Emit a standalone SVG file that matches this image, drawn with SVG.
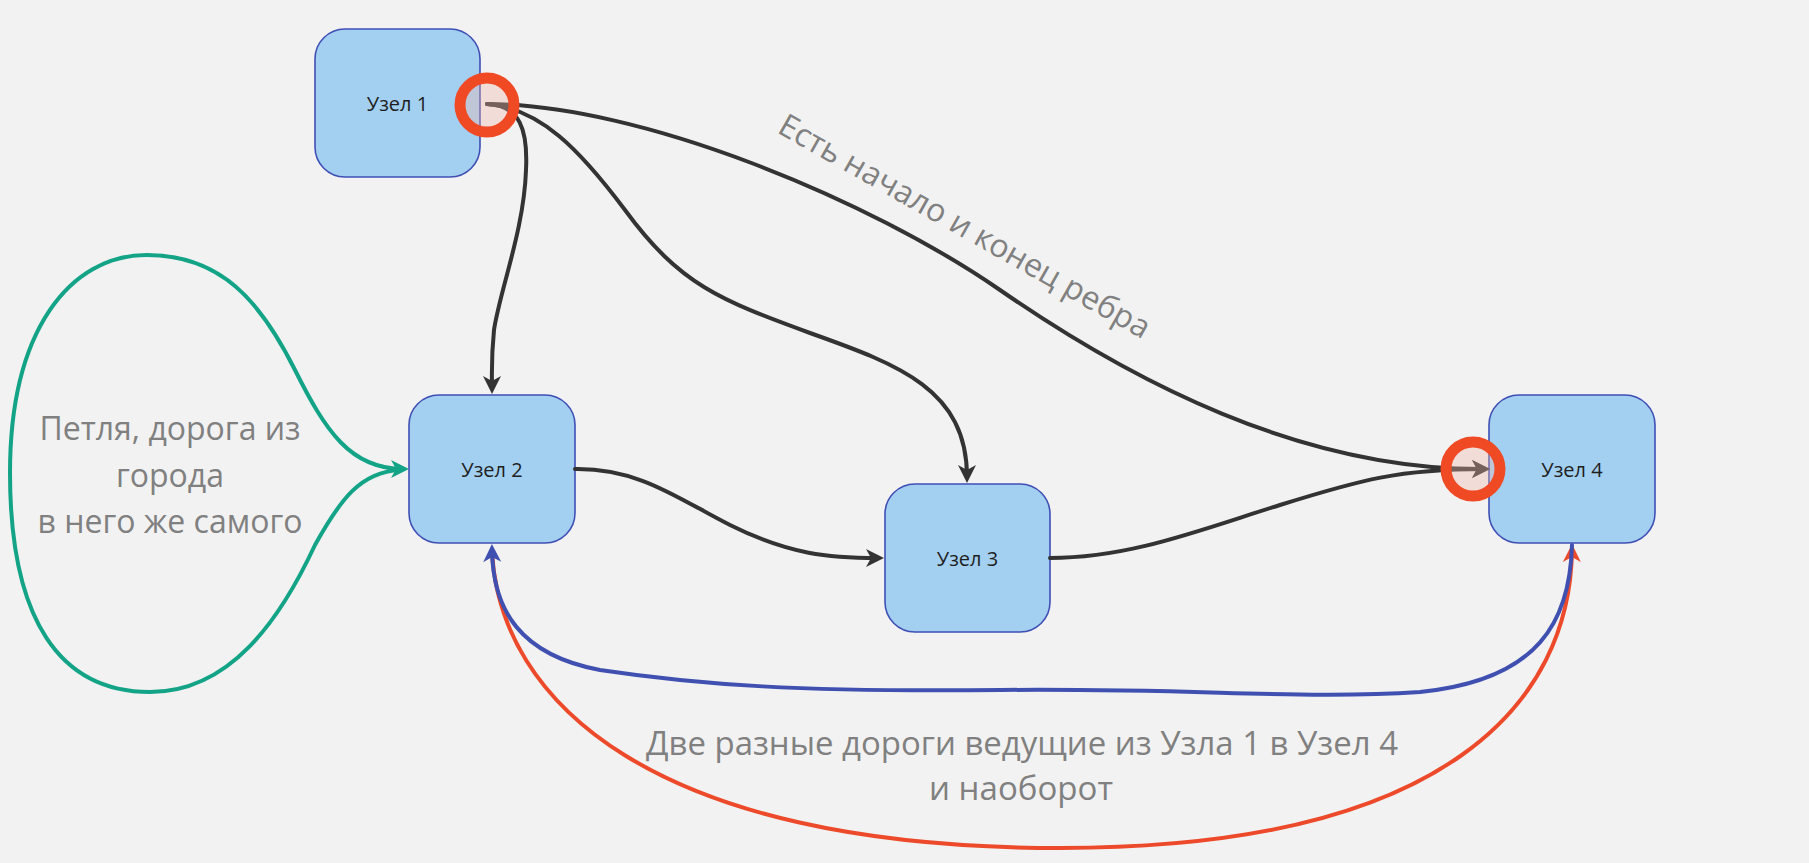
<svg xmlns="http://www.w3.org/2000/svg" width="1809" height="863" viewBox="0 0 1809 863">
<defs>
<style>
.node rect{fill:#a3d0f0;stroke:#3f4fb5;stroke-width:1.6}
.node text{font-family:"Open Sans","Noto Sans",sans-serif;font-size:20px;fill:#1e1e1e;text-anchor:middle}
.lbl{font-family:"Open Sans","Noto Sans",sans-serif;font-size:32px;fill:#808080;text-anchor:middle}
.e{fill:none;stroke-width:4;stroke-linecap:round}
.dark{stroke:#333333}
.teal{stroke:#13a386}
.blue{stroke:#4050b0}
.red{stroke:#ec4a2a}
.ring{fill:#f0b4aa;fill-opacity:0.35;stroke:#f04a25;stroke-width:11}
</style>
<marker id="aDark" markerUnits="userSpaceOnUse" markerWidth="26" markerHeight="26" viewBox="-13 -13 26 26" refX="0" refY="0" orient="auto"><path d="M6,0 L-12,-9 L-7,0 L-12,9 Z" fill="#333333"/></marker>
<marker id="aTeal" markerUnits="userSpaceOnUse" markerWidth="26" markerHeight="26" viewBox="-13 -13 26 26" refX="0" refY="0" orient="auto"><path d="M6,0 L-12,-9 L-7,0 L-12,9 Z" fill="#13a386"/></marker>
<marker id="aBlue" markerUnits="userSpaceOnUse" markerWidth="26" markerHeight="26" viewBox="-13 -13 26 26" refX="0" refY="0" orient="auto"><path d="M6,0 L-12,-9 L-7,0 L-12,9 Z" fill="#4050b0"/></marker>
<marker id="aRed" markerUnits="userSpaceOnUse" markerWidth="26" markerHeight="26" viewBox="-13 -13 26 26" refX="0" refY="0" orient="auto"><path d="M6,0 L-12,-9 L-7,0 L-12,9 Z" fill="#ec4a2a"/></marker>
</defs>
<rect x="0" y="0" width="1809" height="863" fill="#f2f2f2"/>

<g id="node1" class="node"><rect x="315" y="29" width="165" height="148" rx="30"/><text x="397.5" y="111">Узел 1</text></g>
<g id="node2" class="node"><rect x="409" y="395" width="166" height="148" rx="30"/><text x="492" y="477">Узел 2</text></g>
<g id="node3" class="node"><rect x="885" y="484" width="165" height="148" rx="30"/><text x="967.5" y="566">Узел 3</text></g>
<g id="node4" class="node"><rect x="1489" y="395" width="166" height="148" rx="30"/><text x="1572" y="477">Узел 4</text></g>

<g id="connectors">
<path class="e dark" d="M487,104 C520,105 528,130 526,170 C524,230 500,290 494,330 C491,360 492,375 492,388" marker-end="url(#aDark)"/>
<path class="e dark" d="M487,104 C540,108 580,150 625,210 C680,285 720,300 810,333 C900,365 967,390 967,477" marker-end="url(#aDark)"/>
<path class="e dark" d="M487,104 C640,104 870,200 1000,290 C1130,380 1300,470 1484,469" marker-end="url(#aDark)"/>
<path class="e dark" d="M575,469 C640,468 680,500 730,525 C790,555 830,558 878,558" marker-end="url(#aDark)"/>
<path class="e dark" d="M1050,558 C1130,558 1200,530 1280,505 C1360,480 1400,469 1484,469" marker-end="url(#aDark)"/>
<path class="e teal" d="M400,470 C360,472 340,500 315,545 C280,620 230,692 150,692 C60,692 10,620 10,473 C10,330 70,255 147,255 C220,255 260,300 295,370 C325,430 350,469 403,469" marker-end="url(#aTeal)"/>
<path class="e red" d="M492,552 C500,700 650,848 1060,848 C1450,848 1570,700 1572,550" marker-end="url(#aRed)"/>
<path class="e blue" d="M1572,545 C1570,620 1540,680 1420,692 C1300,700 1200,688 1000,690 C800,692 700,685 600,670 C520,655 493,610 492,550" marker-end="url(#aBlue)"/>
</g>

<g id="markers">
<circle class="ring" cx="487" cy="105" r="27"/>
<circle class="ring" cx="1473" cy="469" r="27"/>
</g>

<g id="labels">
<text class="lbl" x="170" y="440">Петля, дорога из</text>
<text class="lbl" x="170" y="487">города</text>
<text class="lbl" x="170" y="533">в него же самого</text>
<text class="lbl" x="1022" y="755" textLength="752" lengthAdjust="spacingAndGlyphs">Две разные дороги ведущие из Узла 1 в Узел 4</text>
<text class="lbl" x="1021" y="800" textLength="184" lengthAdjust="spacingAndGlyphs">и наоборот</text>
<text class="lbl" style="text-anchor:start" transform="translate(776,132) rotate(29.5)">Есть начало и конец ребра</text>
</g>
</svg>
